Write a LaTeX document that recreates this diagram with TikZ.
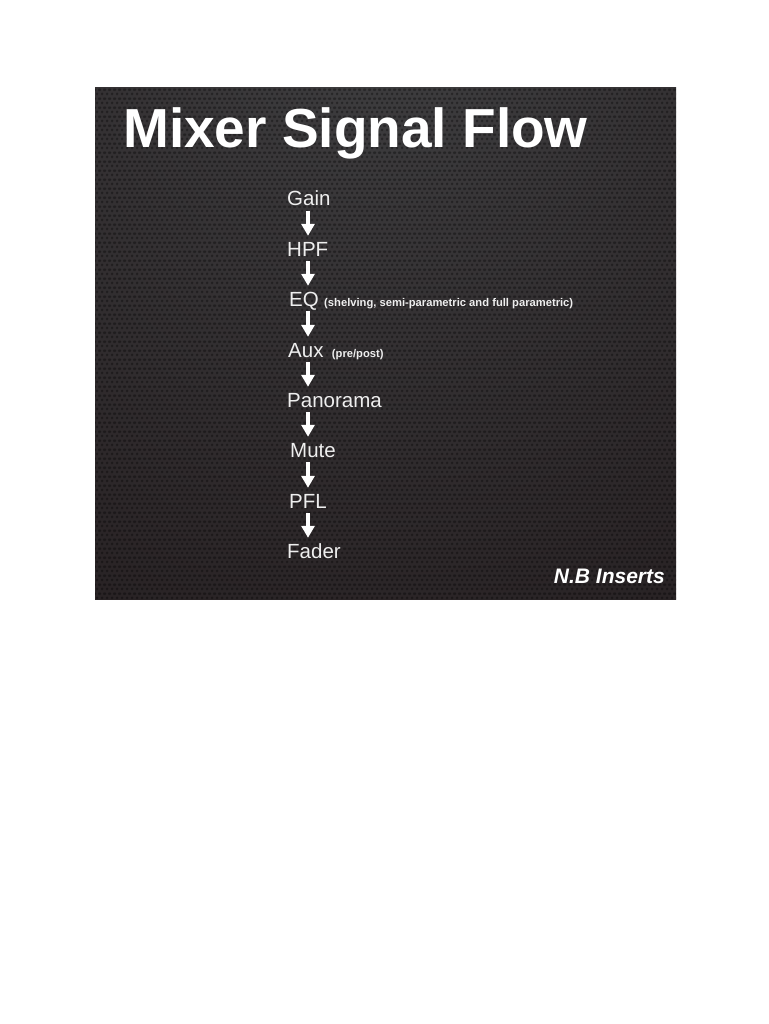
\documentclass[tikz,border=0pt]{standalone}
\usepackage{fontspec}
\setmainfont{Liberation Sans}
\usepackage{xcolor}
\usepackage{tikz}
\usetikzlibrary{arrows.meta,patterns.meta}

\definecolor{slatetop}{HTML}{404042}
\definecolor{slateedge}{HTML}{1C1315}
\definecolor{itemwhite}{HTML}{EEEEEE}

\pgfdeclareradialshading{slideglow}{\pgfpoint{0bp}{35bp}}{%
  color(0bp)=(slatetop); color(45bp)=(slateedge!60!slatetop);
  color(80bp)=(slateedge); color(100bp)=(slateedge)}

\tikzdeclarepattern{
  name=mesh, type=uncolored,
  bottom left={(0pt,0pt)}, top right={(5pt,8.66pt)},
  tile size={(5pt,8.66pt)},
  code={
    \fill (2.5pt,2.165pt) circle (1.6pt);
    \fill (0pt,6.495pt) circle (1.6pt);
    \fill (5pt,6.495pt) circle (1.6pt);
  }
}

\begin{document}
\begin{tikzpicture}[x=1pt,y=-1pt,
  stage/.style={anchor=base west, inner sep=0pt, text height=14pt, text depth=0pt,
    text=itemwhite, font=\fontsize{20.5}{24}\selectfont},
  note/.style={anchor=base west, inner sep=0pt, text=itemwhite,
    font=\bfseries\fontsize{11.2}{13}\selectfont},
  flow/.style={-{Triangle[width=13pt,length=12pt]}, line width=3.6pt, draw=white,
    shorten <=5pt, shorten >=6pt}]
\useasboundingbox (0,0) rectangle (768,1024);
\fill[white] (0,0) rectangle (768,1024);
% slide background
\shade[shading=slideglow] (95,88) rectangle (676,599);
\fill[pattern=mesh, pattern color=black, fill opacity=0.35] (95,88) rectangle (676,599);

\node[anchor=base west, inner sep=0pt, text=white,
  font=\bfseries\fontsize{55}{60}\selectfont] (title) at (123,148) {Mixer Signal Flow};

% signal chain
\node[stage] (gain) at (287,206) {Gain};
\node[stage] (hpf) at (287,256) {HPF};
\node[stage] (eq) at (289,306) {EQ};
\node[note] (eqnote) at ([xshift=5pt]eq.base east) {(shelving, semi-parametric and full parametric)};
\node[stage] (aux) at (288,357) {Aux};
\node[note] (auxnote) at ([xshift=8pt]aux.base east) {(pre/post)};
\node[stage] (pan) at (287,407) {Panorama};
\node[stage] (mute) at (290,457) {Mute};
\node[stage] (pfl) at (289,508) {PFL};
\node[stage] (fader) at (287,558) {Fader};

\node[anchor=base east, inner sep=0pt, text=white,
  font=\bfseries\itshape\fontsize{21}{24}\selectfont] (nb) at (665,583) {N.B Inserts};

\coordinate (spine) at (308,0);
\draw[flow] (gain.south -| spine) -- (hpf.north -| spine);
\draw[flow] (hpf.south -| spine) -- (eq.north -| spine);
\draw[flow] (eq.south -| spine) -- (aux.north -| spine);
\draw[flow] (aux.south -| spine) -- (pan.north -| spine);
\draw[flow] (pan.south -| spine) -- (mute.north -| spine);
\draw[flow] (mute.south -| spine) -- (pfl.north -| spine);
\draw[flow] (pfl.south -| spine) -- (fader.north -| spine);
\end{tikzpicture}
\end{document}
